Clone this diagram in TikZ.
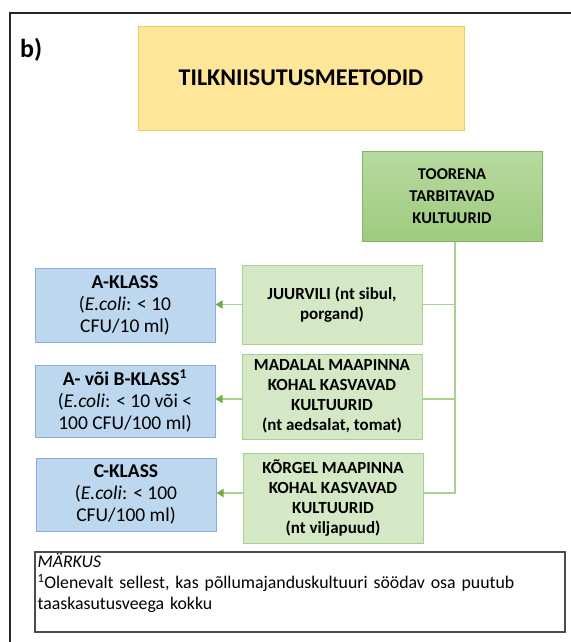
\documentclass[tikz,border=0pt]{standalone}
\usepackage{fontspec}
\setmainfont{Carlito}
\usetikzlibrary{arrows.meta}

\definecolor{titlefill}{HTML}{FFE699}
\definecolor{titleline}{HTML}{EBCB6A}
\definecolor{headtop}{HTML}{B8DA9F}
\definecolor{headbot}{HTML}{9DCB7F}
\definecolor{headline}{HTML}{82B366}
\definecolor{cropfill}{HTML}{D5E8C5}
\definecolor{cropline}{HTML}{A9D18E}
\definecolor{classfill}{HTML}{BDD7EE}
\definecolor{classline}{HTML}{8EAADB}
\definecolor{linkcol}{HTML}{A9D18E}
\definecolor{tipcol}{HTML}{70AD47}

\tikzset{
  titlebox/.style={draw=titleline, line width=0.8pt, fill=titlefill,
    minimum width=326pt, minimum height=104pt, inner sep=0pt,
    font=\fontsize{24}{28}\selectfont\bfseries},
  headbox/.style={draw=headline, line width=1pt, top color=headtop, bottom color=headbot,
    minimum width=180pt, minimum height=90pt, inner sep=0pt, align=center,
    font=\fontsize{16.5}{22}\selectfont\bfseries},
  cropbox/.style={draw=cropline, line width=1pt, fill=cropfill,
    minimum width=180pt, inner sep=0pt, align=center,
    font=\fontsize{17}{20}\selectfont\bfseries},
  classbox/.style={draw=classline, line width=1pt, fill=classfill,
    minimum width=180pt, inner sep=0pt, align=center,
    font=\fontsize{19.5}{22}\selectfont},
  notebox/.style={draw=black!70, line width=1.3pt, fill=white,
    minimum width=530pt, minimum height=80pt, inner sep=0pt},
  link/.style={draw=linkcol, line width=1.8pt},
  arrowlink/.style={link, -{Triangle[length=7pt,width=8pt,color=tipcol]}},
}

\begin{document}
\begin{tikzpicture}[x=1pt,y=-1pt]
\useasboundingbox (0,0) rectangle (570,642);

% outer frame, running off the right and bottom edges
\draw[line width=2pt, black!85] (10,660) -- (10,13) -- (590,13);

\node[font=\fontsize{26}{30}\selectfont\bfseries, anchor=north west, inner sep=0pt] (label) at (20,38) {b)};

\node[titlebox] (title) at (301,78) {TILKNIISUTUSMEETODID};

\node[headbox] (raw) at (452,196) {TOORENA\\TARBITAVAD\\KULTUURID};

\node[cropbox, minimum height=79pt] (root) at (332,304.5) {JUURVILI (nt sibul,\\porgand)};
\node[cropbox, minimum height=85pt] (low) at (332,396.5) {MADALAL MAAPINNA\\KOHAL KASVAVAD\\KULTUURID\\(nt aedsalat, tomat)};
\node[cropbox, minimum height=90pt] (high) at (333,498) {KÕRGEL MAAPINNA\\KOHAL KASVAVAD\\KULTUURID\\(nt viljapuud)};

\node[classbox, minimum height=74pt] (classA) at (125,305) {\textbf{A-KLASS}\\(\textit{E.coli}: < 10\\CFU/10 ml)};
\node[classbox, minimum height=72pt] (classAB) at (125,401) {\textbf{A- või B-KLASS\textsuperscript{1}}\\(\textit{E.coli}: < 10 või <\\100 CFU/100 ml)};
\node[classbox, minimum height=73pt] (classC) at (126,494.5) {\textbf{C-KLASS}\\(\textit{E.coli}: < 100\\CFU/100 ml)};

% trunk from the raw-eaten crops down to the three groups
\coordinate (trunkend) at (455,493);
\draw[link] (raw.south -| trunkend) -- (trunkend) -- (trunkend -| high.east);
\draw[link] (root.east) -- (root.east -| trunkend);
\draw[link] ([yshift=-2.5pt]low.east) -- ([yshift=-2.5pt]low.east -| trunkend);

\draw[arrowlink] (root.west) -- (root.west -| classA.east);
\draw[arrowlink] ([yshift=-2.5pt]low.west) -- ([yshift=-2.5pt]low.west -| classAB.east);
\draw[arrowlink] ([yshift=5pt]high.west) -- ([yshift=5pt]high.west -| classC.east);

\node[notebox] (note) at (300,592) {};
\node[anchor=north west, inner sep=0pt, text width=524pt, align=left,
      font=\fontsize{17.8}{21}\selectfont] (notetext) at ([xshift=3pt,yshift=-1.5pt]note.north west)
  {\textit{MÄRKUS}\\\textsuperscript{1}Olenevalt sellest, kas põllumajanduskultuuri söödav osa puutub\\taaskasutusveega kokku};
\end{tikzpicture}
\end{document}
